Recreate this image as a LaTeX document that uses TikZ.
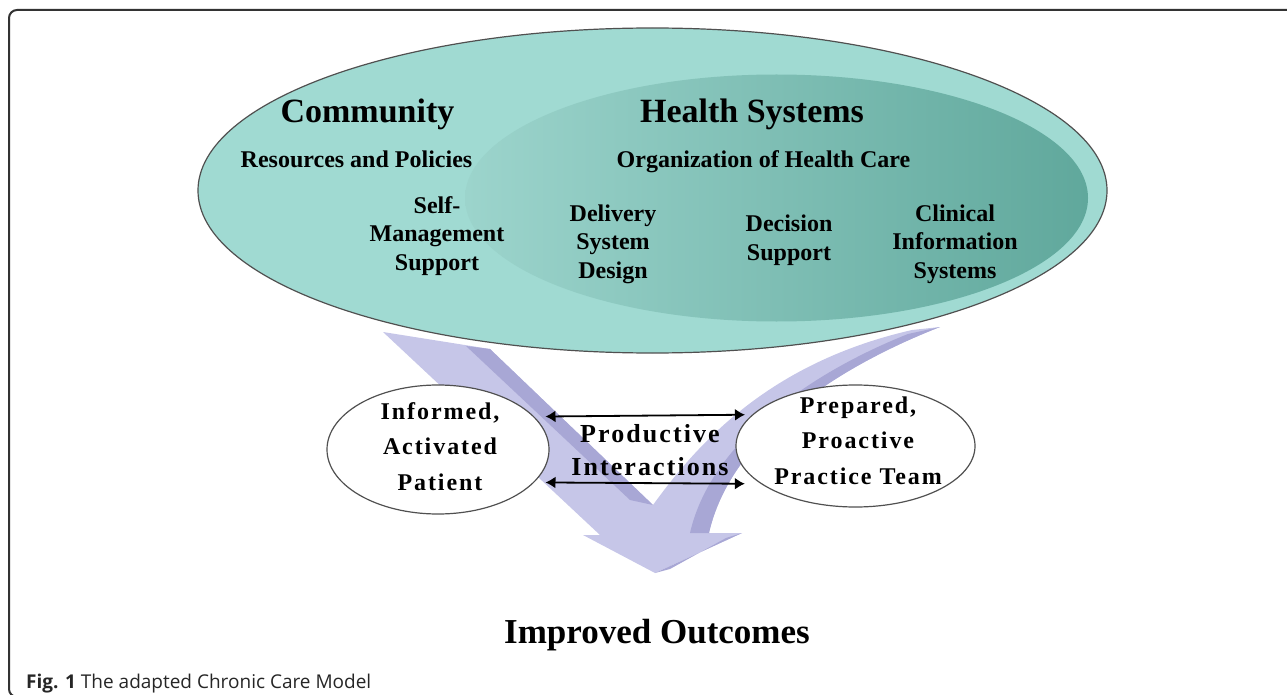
\documentclass[tikz,border=0pt]{standalone}
\usepackage{fontspec}
\setmainfont{Liberation Serif}
\newfontfamily\trackfont[LetterSpace=8]{Liberation Serif}
\newfontfamily\capfont{Open Sans}
\usetikzlibrary{arrows.meta,shapes.geometric}
\definecolor{tealA}{HTML}{A0DAD2}
\definecolor{tealL}{HTML}{9CD4CC}
\definecolor{tealM}{HTML}{86C1B8}
\definecolor{tealD}{HTML}{60A89C}
\definecolor{lavL}{HTML}{C6C6E8}
\definecolor{lavD}{HTML}{A8A7D5}
\definecolor{edgec}{HTML}{505050}
\definecolor{framec}{HTML}{333333}
\begin{document}
\begin{tikzpicture}[x=1pt,y=-1pt,
  bigtitle/.style={font=\fontsize{34}{40}\selectfont\bfseries, anchor=base, inner sep=0pt},
  subtitle/.style={font=\fontsize{24}{28}\selectfont\bfseries, anchor=base, inner sep=0pt},
  item/.style={font=\fontsize{24}{28.5}\selectfont\bfseries, align=center, anchor=base, inner sep=0pt},
  tracked/.style={font=\fontsize{24}{35.5}\selectfont\trackfont\bfseries, align=center, anchor=base, inner sep=0pt},
  actor/.style={ellipse, draw=edgec, line width=1.2pt, fill=white, inner sep=0pt, outer sep=0pt},
  link/.style={{Latex[length=10pt,width=12pt]}-{Latex[length=10pt,width=12pt]}, line width=1.8pt, black}
]
\useasboundingbox (0,0) rectangle (1287,695);
% frame
\begin{scope}
  \clip (0,0) rectangle (1287,695);
  \draw[framec, line width=2pt, rounded corners=8pt] (1300,10) -- (9,10) -- (9,697) -- (1300,697);
\end{scope}
% big arrow
\fill[lavL] (383,332) -- (490,349) -- (653,505) .. controls (700,440) and (772,362) .. (912,330)
  -- (940,327) .. controls (830,370) and (730,440) .. (709,533) -- (742,533) -- (655,573)
  -- (583,535) -- (600,535) -- cycle;
\fill[lavD] (466,346) -- (490,349) -- (653,505) -- (630,500) -- cycle;
\fill[lavD] (940,327) .. controls (830,370) and (730,440) .. (709,533) -- (690,533)
  .. controls (710,445) and (805,375) .. (908,334) -- cycle;
\fill[lavD] (742,533) -- (655,573) -- (670,569) -- (726,538) -- cycle;
% top ellipse
\node[ellipse, draw=edgec, line width=1.2pt, fill=tealA, minimum width=909pt, minimum height=325pt, inner sep=0pt] (outer) at (652.5,190.5) {};
\node[ellipse, minimum width=623pt, minimum height=247pt, inner sep=0pt, left color=tealL, middle color=tealM, right color=tealD] (inner) at (776.5,198) {};
\node[bigtitle] (community) at (367.5,123) {Community};
\node[bigtitle] (health) at (752,123) {Health Systems};
\node[subtitle] (resources) at (356.5,168) {Resources and Policies};
\node[subtitle] (organization) at (763.5,168) {Organization of Health Care};
\node[item] (selfman) at (437,270) {Self-\\Management\\Support};
\node[item] (delivery) at (613,278) {Delivery\\System\\Design};
\node[item] (decision) at (789,260) {Decision\\Support};
\node[item] (clinical) at (955,278) {Clinical\\Information\\Systems};
% actors
\node[actor, minimum width=222pt, minimum height=129pt] (patient) at (438,449.5) {};
\node[actor, minimum width=239pt, minimum height=122pt] (team) at (855.5,446) {};
\node[tracked] (patienttxt) at (440,490) {Informed,\\Activated\\Patient};
\node[tracked] (teamtxt) at (858,484) {Prepared,\\Proactive\\Practice Team};
\draw[link, shorten <=12pt, shorten >=8pt] (patient.19.4) -- (team.163.9);
\draw[link, shorten <=12pt, shorten >=17pt] (patient.-19.4) -- (team.-158.7);
\node[tracked, font=\fontsize{26}{33}\selectfont\trackfont\bfseries] (interact) at (650,475) {Productive\\Interactions};
\node[font=\fontsize{35}{40}\selectfont\bfseries, anchor=base, inner sep=0pt] (outcomes) at (657,643) {Improved Outcomes};
\node[font=\fontsize{19}{22}\selectfont\capfont, anchor=base west, inner sep=0pt, text=black!85] (caption) at (26,688) {\textbf{Fig. 1} The adapted Chronic Care Model};
\end{tikzpicture}
\end{document}
